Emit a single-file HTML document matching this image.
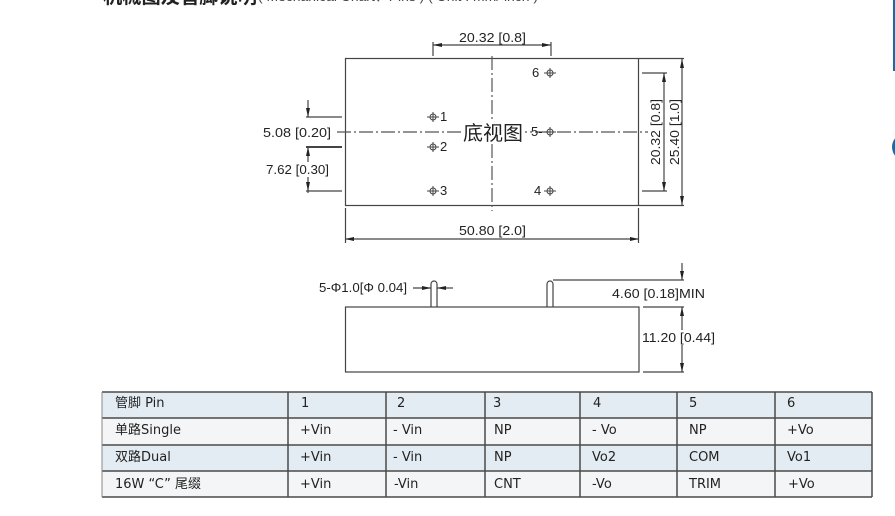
<!DOCTYPE html>
<html><head><meta charset="utf-8"><style>
html,body{margin:0;padding:0;background:#fff;}
body{width:895px;height:516px;overflow:hidden;position:relative;}
svg{position:absolute;left:0;top:0;}
</style></head><body>
<svg width="895" height="516" viewBox="0 0 895 516" xmlns="http://www.w3.org/2000/svg">
<!-- title (cut off at top) -->
<text x="103" y="3" font-family="'Liberation Sans','Noto Sans CJK SC',sans-serif" font-size="19" font-weight="bold" fill="#222" textLength="154" lengthAdjust="spacingAndGlyphs">机械图及管脚说明</text>
<text x="258" y="1" font-family="'Liberation Sans','Noto Sans CJK SC',sans-serif" font-size="13" fill="#444" textLength="280" lengthAdjust="spacingAndGlyphs">( Mechanical Chart、Pins ) ( Unit : mm/ inch )</text>

<!-- right edge blue -->
<rect x="893" y="0" width="2" height="71" fill="#1a6aa8"/>
<circle cx="906" cy="147" r="14" fill="#1a6aa8"/>

<g stroke="#444" fill="none" stroke-width="1.2">
  <!-- top view -->
  <rect x="345.5" y="58.5" width="293" height="147"/>
  <line x1="492" y1="56" x2="492" y2="211" stroke="#555" stroke-dasharray="14 3 2 3"/>
  <line x1="337" y1="132" x2="648" y2="132" stroke="#555" stroke-dasharray="14 3 2 3"/>
  <!-- top dimension -->
  <line x1="433" y1="42" x2="433" y2="56"/>
  <line x1="551" y1="42" x2="551" y2="56"/>
  <line x1="433" y1="45" x2="551" y2="45"/>
  <!-- left dims -->
  <line x1="306" y1="117" x2="342" y2="117"/>
  <line x1="306" y1="147" x2="342" y2="147" stroke-width="2"/>
  <line x1="306" y1="191" x2="342" y2="191"/>
  <line x1="308" y1="100" x2="308" y2="117"/>
  <line x1="308" y1="147" x2="308" y2="193"/>
  <!-- right dims -->
  <line x1="642" y1="73" x2="667" y2="73"/>
  <line x1="642" y1="191" x2="667" y2="191"/>
  <line x1="664" y1="73" x2="664" y2="191"/>
  <line x1="639" y1="58.5" x2="684" y2="58.5"/>
  <line x1="639" y1="205.5" x2="684" y2="205.5"/>
  <line x1="682" y1="59" x2="682" y2="205"/>
  <!-- bottom dim -->
  <line x1="345.5" y1="208" x2="345.5" y2="243"/>
  <line x1="638.5" y1="208" x2="638.5" y2="243"/>
  <line x1="345" y1="239" x2="639" y2="239"/>
  <!-- pins -->
  <g stroke-width="1">
    <circle cx="433" cy="117" r="3"/><line x1="427" y1="117" x2="439" y2="117"/><line x1="433" y1="112" x2="433" y2="122"/>
    <circle cx="433" cy="147" r="3"/><line x1="427" y1="147" x2="439" y2="147"/><line x1="433" y1="142" x2="433" y2="152"/>
    <circle cx="433" cy="191" r="3"/><line x1="427" y1="191" x2="439" y2="191"/><line x1="433" y1="186" x2="433" y2="196"/>
    <circle cx="550" cy="73" r="3"/><line x1="544" y1="73" x2="556" y2="73"/><line x1="550" y1="68" x2="550" y2="78"/>
    <circle cx="550" cy="132" r="3"/><line x1="544" y1="132" x2="556" y2="132"/><line x1="550" y1="127" x2="550" y2="137"/>
    <circle cx="550" cy="191" r="3"/><line x1="544" y1="191" x2="556" y2="191"/><line x1="550" y1="186" x2="550" y2="196"/>
  </g>
  <!-- side view -->
  <rect x="345.5" y="307" width="293.5" height="65"/>
  <path d="M431,307 V284 A3,3 0 0 1 437,284 V307"/>
  <path d="M547,307 V284 A3,3 0 0 1 553,284 V307"/>
  <line x1="413" y1="288" x2="431" y2="288"/>
  <line x1="437" y1="288" x2="453" y2="288"/>
  <line x1="553" y1="280" x2="684" y2="280"/>
  <line x1="682" y1="263" x2="682" y2="280"/>
  <line x1="643" y1="307" x2="684" y2="307"/>
  <line x1="682" y1="307" x2="682" y2="372"/>
  <line x1="643" y1="372" x2="684" y2="372"/>
</g>

<!-- white behind texts crossing lines -->
<rect x="461" y="121" width="64" height="23" fill="#fff"/>
<rect x="264" y="162" width="67" height="15" fill="#fff"/>
<rect x="640" y="330" width="77" height="15" fill="#fff"/>
<text x="493" y="140" text-anchor="middle" font-family="'Noto Sans CJK SC',sans-serif" font-size="20" fill="#222">底视图</text>

<!-- arrowheads -->
<g fill="#222">
  <polygon points="433,45 442,43 442,47"/>
  <polygon points="551,45 542,43 542,47"/>
  <polygon points="308,117 306,108 310,108"/>
  <polygon points="308,147 306,156 310,156"/>
  <polygon points="308,191 306,182 310,182"/>
  <polygon points="664,73 662,82 666,82"/>
  <polygon points="664,191 662,182 666,182"/>
  <polygon points="682,59 680,68 684,68"/>
  <polygon points="682,205 680,196 684,196"/>
  <polygon points="345,239 354,237 354,241"/>
  <polygon points="639,239 630,237 630,241"/>
  <polygon points="431,288 422,286 422,290"/>
  <polygon points="437,288 446,286 446,290"/>
  <polygon points="682,280 680,271 684,271"/>
  <polygon points="682,307 680,316 684,316"/>
  <polygon points="682,372 680,363 684,363"/>
</g>

<!-- dimension texts -->
<g font-family="'Liberation Sans','Noto Sans CJK SC',sans-serif" font-size="13" fill="#222">
  <text x="459" y="42" textLength="67" lengthAdjust="spacingAndGlyphs">20.32 [0.8]</text>
  <text x="263" y="137" textLength="68" lengthAdjust="spacingAndGlyphs">5.08 [0.20]</text>
  <text x="266" y="174" textLength="63" lengthAdjust="spacingAndGlyphs">7.62 [0.30]</text>
  <text x="459" y="235" textLength="67" lengthAdjust="spacingAndGlyphs">50.80 [2.0]</text>
  <text transform="translate(660,165) rotate(-90)" x="0" y="0" textLength="66" lengthAdjust="spacingAndGlyphs">20.32 [0.8]</text>
  <text transform="translate(679,165) rotate(-90)" x="0" y="0" textLength="66" lengthAdjust="spacingAndGlyphs">25.40 [1.0]</text>
  <text x="319" y="292" textLength="88" lengthAdjust="spacingAndGlyphs">5-Φ1.0[Φ 0.04]</text>
  <text x="612" y="298" textLength="93" lengthAdjust="spacingAndGlyphs">4.60 [0.18]MIN</text>
  <text x="642" y="342" textLength="73" lengthAdjust="spacingAndGlyphs">11.20 [0.44]</text>
  <text x="440" y="121">1</text>
  <text x="440" y="151">2</text>
  <text x="440" y="195">3</text>
  <text x="532" y="77">6</text>
  <text x="531" y="136">5-</text>
  <text x="534" y="195">4</text>
</g>

<!-- table -->
<rect x="102" y="392" width="770" height="26" fill="#e3ecf2"/>
<rect x="102" y="418" width="770" height="27" fill="#f4f5f6"/>
<rect x="102" y="445" width="770" height="26" fill="#e3ecf2"/>
<rect x="102" y="471" width="770" height="26" fill="#f4f5f6"/>
<g stroke="#4a4a4a" stroke-width="1.5">
  <line x1="102" y1="392" x2="872" y2="392"/>
  <line x1="102" y1="418" x2="872" y2="418"/>
  <line x1="102" y1="445" x2="872" y2="445"/>
  <line x1="102" y1="471" x2="872" y2="471"/>
  <line x1="102" y1="497" x2="872" y2="497"/>
  <line x1="102" y1="392" x2="102" y2="497" stroke="#888" stroke-width="1"/>
  <line x1="288" y1="392" x2="288" y2="497"/>
  <line x1="386" y1="392" x2="386" y2="497"/>
  <line x1="485" y1="392" x2="485" y2="497"/>
  <line x1="580" y1="392" x2="580" y2="497"/>
  <line x1="677" y1="392" x2="677" y2="497"/>
  <line x1="775" y1="392" x2="775" y2="497"/>
  <line x1="872" y1="392" x2="872" y2="497"/>
</g>
<g font-family="'DejaVu Sans','Noto Sans CJK SC',sans-serif" font-size="13" fill="#222">
  <text x="115" y="407">管脚 Pin</text>
  <text x="301" y="407">1</text>
  <text x="397" y="407">2</text>
  <text x="493" y="407">3</text>
  <text x="593" y="407">4</text>
  <text x="689" y="407">5</text>
  <text x="787" y="407">6</text>

  <text x="115" y="434">单路Single</text>
  <text x="300" y="434">+Vin</text>
  <text x="393" y="434">- Vin</text>
  <text x="494" y="434">NP</text>
  <text x="592" y="434">- Vo</text>
  <text x="689" y="434">NP</text>
  <text x="787" y="434">+Vo</text>

  <text x="115" y="461">双路Dual</text>
  <text x="300" y="461">+Vin</text>
  <text x="393" y="461">- Vin</text>
  <text x="494" y="461">NP</text>
  <text x="592" y="461">Vo2</text>
  <text x="689" y="461">COM</text>
  <text x="787" y="461">Vo1</text>

  <text x="115" y="488">16W “C” 尾缀</text>
  <text x="300" y="488">+Vin</text>
  <text x="394" y="488">-Vin</text>
  <text x="494" y="488">CNT</text>
  <text x="592" y="488">-Vo</text>
  <text x="689" y="488">TRIM</text>
  <text x="788" y="488">+Vo</text>
</g>
</svg>
</body></html>
